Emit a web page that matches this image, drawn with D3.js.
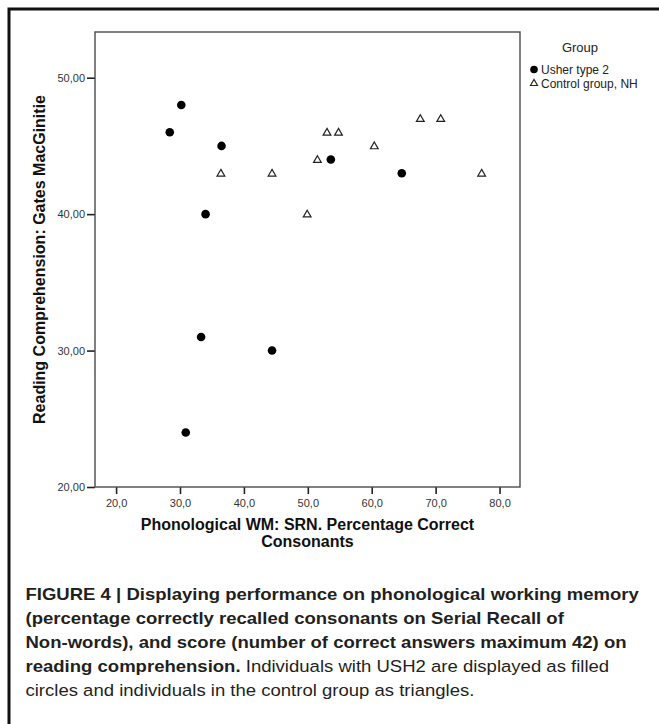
<!DOCTYPE html>
<html><head><meta charset="utf-8">
<script src="https://cdn.jsdelivr.net/npm/d3@7"></script>
<style>
html,body{margin:0;padding:0;background:#fff;}
svg{display:block;}
text{font-family:"Liberation Sans",Arial,Helvetica,sans-serif;}
</style></head>
<body>
<script>
// ---- data ----
const usherX = [28.4, 30.2, 36.5, 34.0, 53.6, 64.7, 33.3, 44.4, 30.9];
const usherY = [46, 48, 45, 40, 44, 43, 31, 30, 24];
const controlX = [36.4, 44.4, 49.9, 51.5, 53.0, 54.8, 60.4, 67.6, 70.8, 77.2];
const controlY = [43, 43, 40, 44, 46, 46, 45, 47, 47, 43];
const xTicks = [20, 30, 40, 50, 60, 70, 80];
const yTicks = [20, 30, 40, 50];
const groupNames = ["Usher type 2", "Control group, NH"];
const legendTitle = "Group";
const xTitleLines = ["Phonological WM: SRN. Percentage Correct", "Consonants"];
const yTitle = "Reading Comprehension: Gates MacGinitie";
const captionLines = [
  [["FIGURE 4 | Displaying performance on phonological working memory", true]],
  [["(percentage correctly recalled consonants on Serial Recall of", true]],
  [["Non-words), and score (number of correct answers maximum 42) on", true]],
  [["reading comprehension.", true], [" Individuals with USH2 are displayed as filled", false]],
  [["circles and individuals in the control group as triangles.", false]]
];

const W = 659, H = 724;
const svg = d3.select("body").append("svg").attr("width", W).attr("height", H);

// outer frame (cropped)
svg.append("path").attr("d", `M9,${H+5} L9,9 L${W+5},9`)
  .attr("fill", "none").attr("stroke", "#111").attr("stroke-width", 3);

const plot = {left: 95, top: 32, right: 520, bottom: 487};
const x = d3.scaleLinear().domain([16.7, 83.2]).range([plot.left, plot.right]);
const y = d3.scaleLinear().domain([20, 53.35]).range([plot.bottom, plot.top]);

const loc = d3.formatLocale({decimal: ",", thousands: ".", grouping: [3], currency: ["", ""]});

// axes
const yAxis = d3.axisLeft(y).tickValues(yTicks).tickFormat(loc.format(".2f"))
  .tickSize(8).tickPadding(2).tickSizeOuter(0);
const gy = svg.append("g").attr("transform", `translate(${plot.left},0)`).call(yAxis);
gy.select(".domain").remove();
gy.selectAll(".tick line").attr("stroke", "#222").attr("stroke-width", 1.6);
gy.selectAll(".tick text").attr("font-size", 11).attr("fill", "#333")
  .attr("font-family", "'Liberation Sans',Arial,sans-serif");

const xAxis = d3.axisBottom(x).tickValues(xTicks).tickFormat(loc.format(".1f"))
  .tickSize(7).tickPadding(5).tickSizeOuter(0);
const gx = svg.append("g").attr("transform", `translate(0,${plot.bottom})`).call(xAxis);
gx.select(".domain").remove();
gx.selectAll(".tick line").attr("stroke", "#222").attr("stroke-width", 1.6);
gx.selectAll(".tick text").attr("font-size", 11).attr("fill", "#333")
  .attr("font-family", "'Liberation Sans',Arial,sans-serif");

// plot frame
svg.append("rect").attr("x", plot.left).attr("y", plot.top)
  .attr("width", plot.right - plot.left).attr("height", plot.bottom - plot.top)
  .attr("fill", "none").attr("stroke", "#4a4a4a").attr("stroke-width", 1.4);

// markers
const tri = d3.symbol().type(d3.symbolTriangle).size(26);
svg.append("g").selectAll("path").data(controlX.map((d, i) => [d, controlY[i]]))
  .join("path").attr("d", tri)
  .attr("transform", d => `translate(${x(d[0])},${y(d[1]) + 0.6})`)
  .attr("fill", "#fff").attr("stroke", "#222").attr("stroke-width", 1.2);
svg.append("g").selectAll("circle").data(usherX.map((d, i) => [d, usherY[i]]))
  .join("circle").attr("cx", d => x(d[0])).attr("cy", d => y(d[1])).attr("r", 4.3)
  .attr("fill", "#000");

// axis titles
svg.append("text").attr("transform", `translate(45,${(plot.top + plot.bottom) / 2}) rotate(-90)`)
  .attr("text-anchor", "middle").attr("font-size", 16).attr("font-weight", "bold").attr("fill", "#111")
  .text(yTitle);
xTitleLines.forEach((t, i) => {
  svg.append("text").attr("x", (plot.left + plot.right) / 2).attr("y", 530 + i * 16.5)
    .attr("text-anchor", "middle").attr("font-size", 16).attr("font-weight", "bold").attr("fill", "#111")
    .text(t);
});

// legend
svg.append("text").attr("x", 580).attr("y", 52).attr("text-anchor", "middle")
  .attr("font-size", 13).attr("fill", "#222").text(legendTitle);
const leg = svg.append("g");
leg.append("circle").attr("cx", 534).attr("cy", 69.5).attr("r", 3.8).attr("fill", "#000");
leg.append("path").attr("d", d3.symbol().type(d3.symbolTriangle).size(22))
  .attr("transform", "translate(534,83.5)").attr("fill", "#fff").attr("stroke", "#222").attr("stroke-width", 1.1);
groupNames.forEach((t, i) => {
  leg.append("text").attr("x", 541).attr("y", 74 + i * 14).attr("font-size", 12).attr("fill", "#222").text(t);
});

// caption
const cap = svg.append("g");
const capTexts = captionLines.map((line, i) => {
  const t = cap.append("text").attr("x", 0).attr("y", 600 + i * 24)
    .attr("font-size", 16.5).attr("fill", "#231f20");
  line.forEach(([s, b]) => t.append("tspan").attr("font-weight", b ? "bold" : "normal").text(s));
  return t;
});
const w0 = capTexts[0].node().getComputedTextLength();
const sx = 614 / w0;
cap.attr("transform", `translate(25.5,0) scale(${sx},1)`);
</script>
</body></html>
